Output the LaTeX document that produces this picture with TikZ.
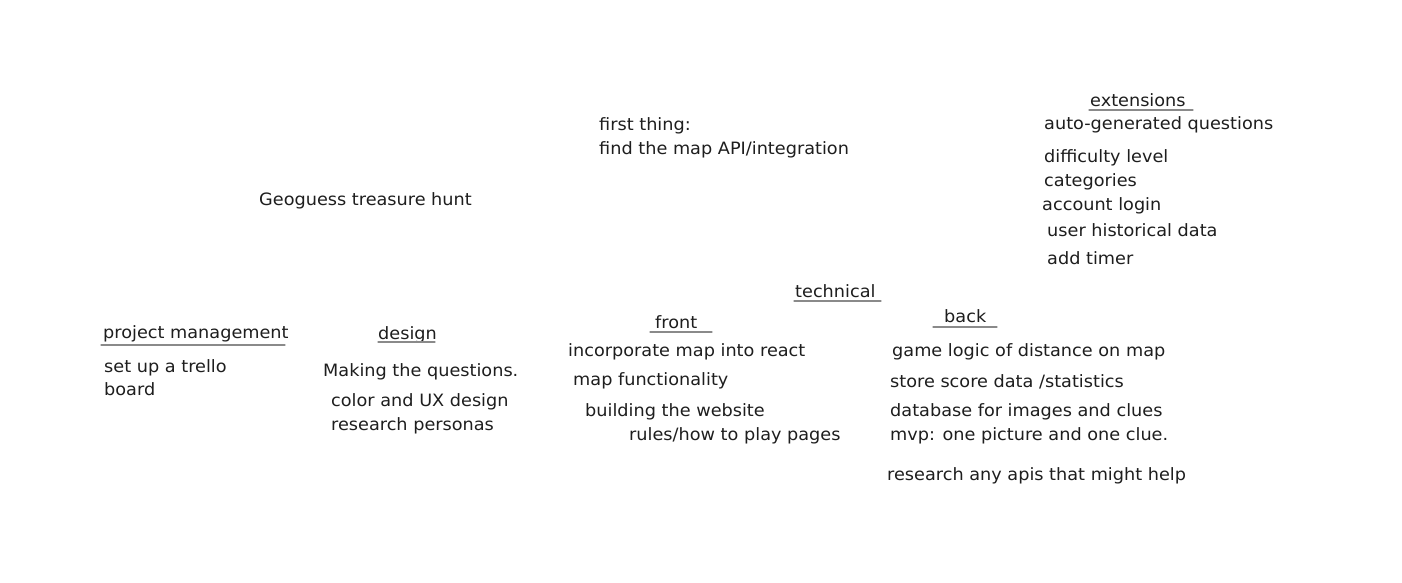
\documentclass[tikz,border=0pt]{standalone}
\usepackage{fontspec}
\setmainfont{DejaVu Sans}[FakeStretch=1.04]
\definecolor{ink}{HTML}{1E1E1E}
\definecolor{rule}{HTML}{8A8A8A}
\begin{document}
\begin{tikzpicture}[x=1pt,y=-1pt,
  txt/.style={anchor=west,inner sep=0pt,yshift=-1.5pt,text=ink,font=\fontsize{17}{19}\selectfont},
  uline/.style={draw=rule,line width=1.1pt,line cap=round}]
\useasboundingbox[fill=white] (0,0) rectangle (1402,583);
% title and first thing
\node[txt] (title) at (259,199) {Geoguess treasure hunt};
\node[txt] (first1) at (599,124) {first thing:};
\node[txt] (first2) at (599,148) {find the map API/integration};
% extensions
\node[txt] (ext) at (1090,99) {extensions};
\draw[uline] (1089,110) -- (1193,110);
\node[txt] (e1) at (1044,123) {auto-generated questions};
\node[txt] (e2) at (1044,156) {difficulty level};
\node[txt] (e3) at (1044,180) {categories};
\node[txt] (e4) at (1042,204) {account login};
\node[txt] (e5) at (1047,229) {user historical data};
\node[txt] (e6) at (1047,257) {add timer};
% technical
\node[txt] (tech) at (795,290) {technical};
\draw[uline] (794,301) -- (881,301);
% front
\node[txt] (front) at (655,321) {front};
\draw[uline] (650,332) -- (712,332);
\node[txt] (f1) at (568,350) {incorporate map into react};
\node[txt] (f2) at (573,379) {map functionality};
\node[txt] (f3) at (585,410) {building the website};
\node[txt] (f4) at (629,434) {rules/how to play pages};
% back
\node[txt] (back) at (944,315) {back};
\draw[uline] (933,327) -- (997,327);
\node[txt] (b1) at (892,350) {game logic of distance on map};
\node[txt] (b2) at (890,380) {store score data /statistics};
\node[txt] (b3) at (890,410) {database for images and clues};
\node[txt] (b4) at (890,434) {mvp: one picture and one clue.};
\node[txt] (b5) at (887,474) {research any apis that might help};
% project management
\node[txt] (pm) at (103,332) {project management};
\draw[uline] (101,345) -- (285,345);
\node[txt] (pm1) at (104,366) {set up a trello};
\node[txt] (pm2) at (104,388) {board};
% design
\node[txt] (des) at (378,333) {design};
\draw[uline] (378,342) -- (435,342);
\node[txt] (d1) at (323,370) {Making the questions.};
\node[txt] (d2) at (331,400) {color and UX design};
\node[txt] (d3) at (331,424) {research personas};
\end{tikzpicture}
\end{document}
